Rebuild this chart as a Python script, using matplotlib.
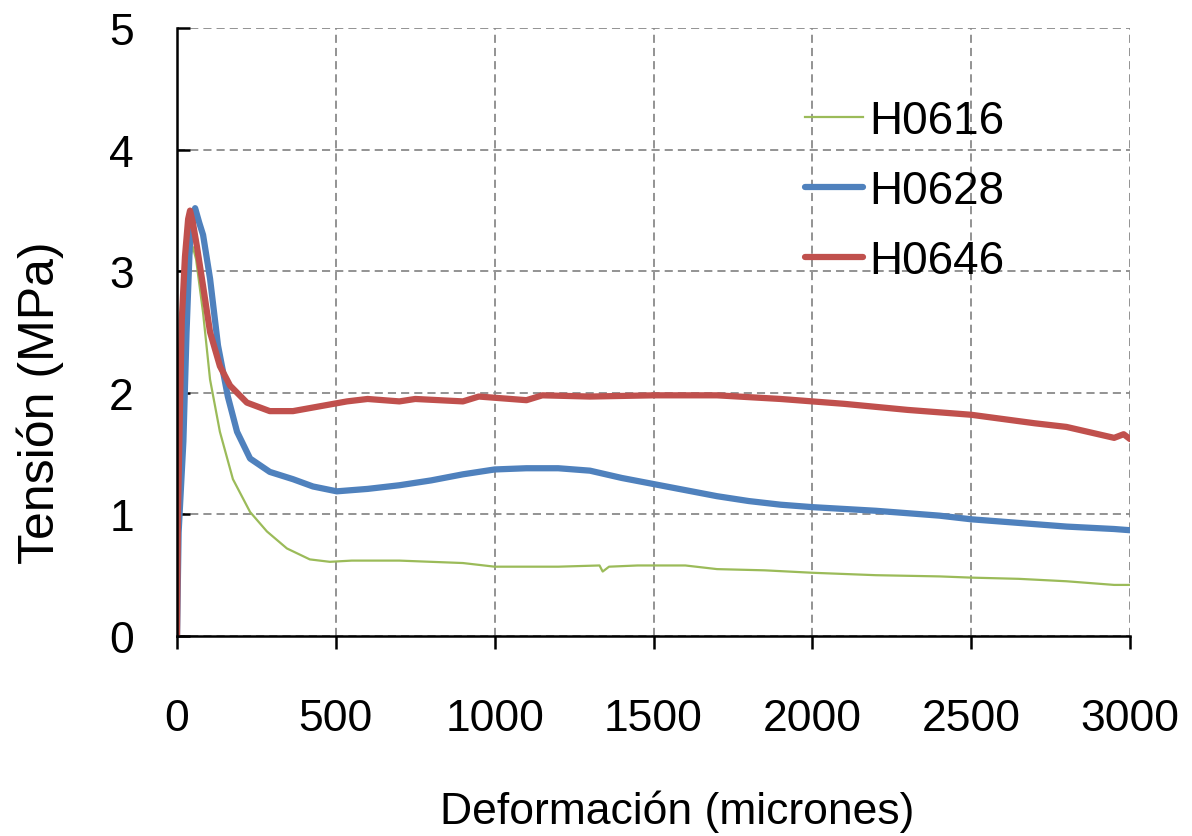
import matplotlib.pyplot as plt
import numpy as np

plt.rcParams['font.family'] = ['Liberation Sans', 'DejaVu Sans']

# H0616 (thin green)
x_h0616 = [0, 4, 10, 20, 30, 40, 50, 60, 82, 104, 135, 176, 230, 283, 346, 418, 481,
           550, 700, 800, 900, 1000, 1200, 1330, 1340, 1360, 1450, 1600, 1700,
           1850, 2000, 2200, 2400, 2500, 2650, 2800, 2950, 3000]
y_h0616 = [0, 0.9, 1.6, 2.3, 2.8, 3.1, 3.2, 3.1, 2.66, 2.11, 1.68, 1.29, 1.02, 0.86,
           0.72, 0.63, 0.61, 0.62, 0.62, 0.61, 0.6, 0.57, 0.57, 0.58, 0.53, 0.57,
           0.58, 0.58, 0.55, 0.54, 0.52, 0.5, 0.49, 0.48, 0.47, 0.45, 0.42, 0.42]

# H0628 (blue)
x_h0628 = [0, 5, 12, 20, 30, 40, 50, 57, 70, 82, 104, 129, 160, 189, 230, 292, 365,
           428, 503, 600, 700, 800, 900, 1000, 1100, 1200, 1300, 1400, 1500, 1600,
           1700, 1800, 1900, 2000, 2200, 2400, 2500, 2600, 2800, 2950, 3000]
y_h0628 = [0, 0.85, 1.2, 1.6, 2.5, 3.2, 3.45, 3.52, 3.4, 3.3, 2.94, 2.39, 1.97, 1.68,
           1.46, 1.35, 1.29, 1.23, 1.19, 1.21, 1.24, 1.28, 1.33, 1.37, 1.38, 1.38,
           1.36, 1.3, 1.25, 1.2, 1.15, 1.11, 1.08, 1.06, 1.03, 0.99, 0.96, 0.94,
           0.9, 0.88, 0.87]

# H0646 (red)
x_h0646 = [0, 3, 9, 15, 25, 35, 41, 50, 63, 82, 104, 135, 167, 220, 292, 365, 450,
           535, 600, 700, 750, 900, 950, 1100, 1150, 1300, 1500, 1700, 1900, 2100,
           2300, 2500, 2700, 2800, 2900, 2950, 2980, 3000]
y_h0646 = [0, 1.02, 1.84, 2.6, 3.12, 3.43, 3.5, 3.4, 3.2, 2.88, 2.5, 2.22, 2.06, 1.92,
           1.85, 1.85, 1.89, 1.93, 1.95, 1.93, 1.95, 1.93, 1.97, 1.94, 1.98, 1.97,
           1.98, 1.98, 1.95, 1.91, 1.86, 1.82, 1.75, 1.72, 1.66, 1.63, 1.66, 1.62]

fig = plt.figure(figsize=(11.92, 8.37), dpi=100)
ax = fig.add_axes([0.1485, 0.239, 0.7995, 0.726])

ax.plot(x_h0616, y_h0616, color='#9bbb59', lw=1.6, label='H0616')
ax.plot(x_h0628, y_h0628, color='#4f81bd', lw=4.5, label='H0628', solid_capstyle='round')
ax.plot(x_h0646, y_h0646, color='#c0504d', lw=4.5, label='H0646', solid_capstyle='round')

ax.set_xlim(0, 3000)
ax.set_ylim(0, 5)
ax.set_xticks(np.arange(0, 3001, 500))
ax.set_yticks(np.arange(0, 6, 1))
ax.grid(True, color='#8a8a8a', linestyle='--', linewidth=1.3, dashes=(4.5, 2.8))
ax.set_axisbelow(True)

for side in ['top', 'right']:
    ax.spines[side].set_visible(False)
for side in ['left', 'bottom']:
    ax.spines[side].set_linewidth(1.8)

ax.tick_params(axis='x', direction='out', length=9, width=1.8, pad=36, labelsize=32)
ax.tick_params(axis='y', direction='in', length=9, width=1.8, pad=31, labelsize=32)

ax.set_xlabel('Deformación (micrones)', fontsize=32, va='center')
ax.set_ylabel('Tensión (MPa)', fontsize=36, va='center')
ax.xaxis.set_label_coords(0.525, -0.288)
ax.yaxis.set_label_coords(-0.144, 0.385)

ax.legend(loc='upper left', bbox_to_anchor=(0.64, 0.913), frameon=False,
          fontsize=33, handlelength=1.25, handletextpad=0.15, labelspacing=0.56,
          borderaxespad=0)

fig.savefig('out.png', dpi=100)
